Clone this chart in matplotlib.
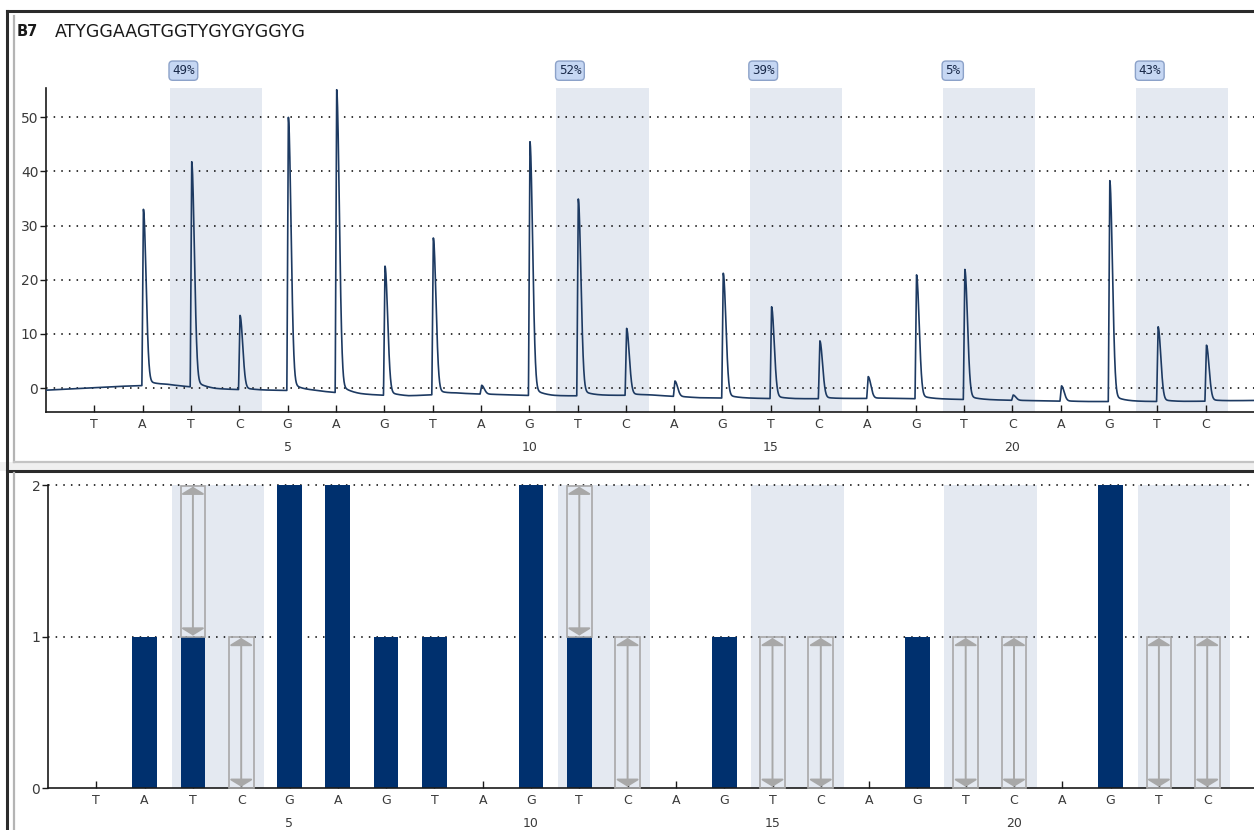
import numpy as np
import matplotlib.pyplot as plt
from matplotlib.lines import Line2D
from matplotlib.patches import Rectangle

W, H = 1254, 830

# dispensation order and sequence label
dispensation = list("TATCGAGTAGTCAGTCAGTCAGTC")
sequence = "ATYGGAAGTGGTYGYGYGGYG"
well = "B7"

# pyrogram: apex signal of each dispensation peak (as read on the y axis)
peak_tops = [-0.4, 33.0, 41.8, 13.4, 50.0, 55.1, 22.5, 27.7, 0.5, 45.5, 34.9, 11.0,
             1.3, 21.2, 15.0, 8.7, 2.1, 20.9, 21.9, -1.3, 0.4, 38.3, 11.3, 7.9]

# baseline drift of the trace
base_pos = [0, 1.5, 2.5, 3.5, 4.5, 5.5, 6.5, 7.5, 8.5, 10.5, 12.5, 13.5, 15.5, 17.5,
            19.5, 21.5, 23.5, 25]
base_val = [-0.4, 0.3, 0.6, -0.2, -0.4, -0.5, -1.2, -1.5, -1.0, -1.5, -1.3, -1.8, -2.0,
            -1.9, -2.2, -2.5, -2.5, -2.3]

# histogram of expected incorporations
expected = [0, 1, 1, 0, 2, 2, 1, 1, 0, 2, 1, 0, 0, 1, 0, 0, 0, 1, 0, 0, 0, 2, 0, 0]

# variable positions: (dispensation, low, high)
variable = [(3, 1, 2), (4, 0, 1), (11, 1, 2), (12, 0, 1), (15, 0, 1), (16, 0, 1),
            (19, 0, 1), (20, 0, 1), (23, 0, 1), (24, 0, 1)]

# CpG sites: first dispensation of the pair and methylation result
cpg_start = [3, 11, 15, 19, 23]
cpg_pct = [49, 52, 39, 5, 43]

SHADE = "#e4e9f1"
NAVY = "#00306e"
TRACE = "#1d3a62"
TXT = "#3a3a3a"

pos = np.arange(1, len(dispensation) + 1)
ticklabels = [d + ("\n%d" % p if p % 5 == 0 else "") for d, p in zip(dispensation, pos)]


def fig_rect(x0, y_top, x1, y_bot):
    return [x0 / W, 1 - y_bot / H, (x1 - x0) / W, (y_bot - y_top) / H]


def peak(x, p, amp):
    # near-vertical rise, then a half-gaussian fall with a short tail
    rise = np.clip((x - (p - 0.015)) / 0.03, 0, 1)
    t = np.clip(x - (p + 0.015), 0, None)
    fall = 0.96 * np.exp(-(t / 0.078) ** 2) + 0.04 * np.exp(-t / 0.2)
    return amp * rise * fall


def style_axis(ax, yticks):
    for s in ("top", "right"):
        ax.spines[s].set_visible(False)
    for s in ("left", "bottom"):
        ax.spines[s].set_linewidth(1.2)
        ax.spines[s].set_color("#1a1a1a")
    ax.set_xticks(pos)
    ax.set_xticklabels(ticklabels, fontsize=9, color=TXT, linespacing=2.05, va="top")
    ax.tick_params(axis="x", direction="in", length=5, width=1, pad=4, colors="#1a1a1a",
                   labelcolor=TXT)
    ax.set_yticks(yticks)
    ax.tick_params(axis="y", direction="out", length=4, width=1, pad=1.5, colors="#1a1a1a",
                   labelcolor=TXT, labelsize=10)
    ax.yaxis.grid(True, linestyle=(0, (1, 4)), color="black", linewidth=1.1)
    ax.set_axisbelow(True)


fig = plt.figure(figsize=(W / 100, H / 100), dpi=100)

# ---- pyrogram ----
ax1 = fig.add_axes(fig_rect(46, 88, 1254, 412))
ax1.set_xlim(0, 25)
ax1.set_ylim(-4.43, 55.4)
style_axis(ax1, [0, 10, 20, 30, 40, 50])

for p, pct in zip(cpg_start, cpg_pct):
    ax1.axvspan(p - 0.44, p + 1.47, color=SHADE, zorder=0, lw=0)
    ax1.text(p - 0.39, 58.6, "%d%%" % pct, ha="left", va="center", fontsize=9,
             family="DejaVu Sans Mono", color="#1a2a4a", clip_on=False,
             bbox=dict(boxstyle="round,pad=0.25,rounding_size=0.3", fc="#c6d7f3",
                       ec="#8ca2c9", lw=1))

x = np.linspace(0, 25, 12501)
base = np.interp(x, base_pos, base_val)
signal = base.copy()
for p, top in zip(pos, peak_tops):
    amp = max(top - np.interp(p, base_pos, base_val), 0)
    signal += peak(x, p, amp)
ax1.plot(x, signal, color=TRACE, lw=1.2, zorder=3)

# ---- histogram ----
ax2 = fig.add_axes(fig_rect(48, 485.5, 1254, 788))
ax2.set_xlim(0, (1254 - 48) / 48.3)
ax2.set_ylim(0, 2)
style_axis(ax2, [0, 1, 2])
ax2.yaxis.grid(False)
for yv in (1, 2):
    ax2.axhline(yv, linestyle=(0, (1, 4)), color="black", linewidth=1.1, zorder=0.5,
                clip_on=False)

for p in cpg_start:
    ax2.axvspan(p - 0.44, p + 1.47, color=SHADE, zorder=0, lw=0)

ax2.bar(pos, expected, width=0.51, color=NAVY, zorder=2)

for p, lo, hi in variable:
    ax2.add_patch(Rectangle((p - 0.255, lo), 0.51, hi - lo, fc="none", ec="#a8a8a8",
                            lw=1.2, zorder=3, clip_on=False))
    ax2.annotate("", xy=(p, hi - 0.008), xytext=(p, lo + 0.008),
                 arrowprops=dict(arrowstyle="<|-|>,head_length=0.22,head_width=0.36",
                                 mutation_scale=20, color="#a8a8a8", lw=1.4,
                                 shrinkA=0, shrinkB=0),
                 zorder=4, annotation_clip=False)

# ---- title and panel frames ----
fig.text(17 / W, 1 - 32 / H, well, fontsize=10.5, fontweight="bold", color="#1a1a1a",
         va="center", ha="left")
fig.text(55 / W, 1 - 32 / H, sequence, fontsize=12.5, color="#1a1a1a", va="center",
         ha="left")


def line(xs, ys, color, lw):
    fig.add_artist(Line2D([v / W for v in xs], [1 - v / H for v in ys], color=color,
                          lw=lw, transform=fig.transFigure))


fig.add_artist(Rectangle((0, 1 - 471 / H), 1, 9 / H, transform=fig.transFigure,
                         fc="#f0f0f0", ec="none", zorder=-5))
line([7, 7], [11, 830], "#2b2b2b", 2.2)
line([7, 1254], [11, 11], "#2b2b2b", 2.2)
line([14, 14], [16, 462], "#b4b4b4", 1.6)
line([14, 1254], [462, 462], "#c4c4c4", 1.6)
line([7, 1254], [471, 471], "#2b2b2b", 2.2)
line([14, 14], [473, 830], "#b4b4b4", 1.6)

fig.savefig("out.png", dpi=100)
